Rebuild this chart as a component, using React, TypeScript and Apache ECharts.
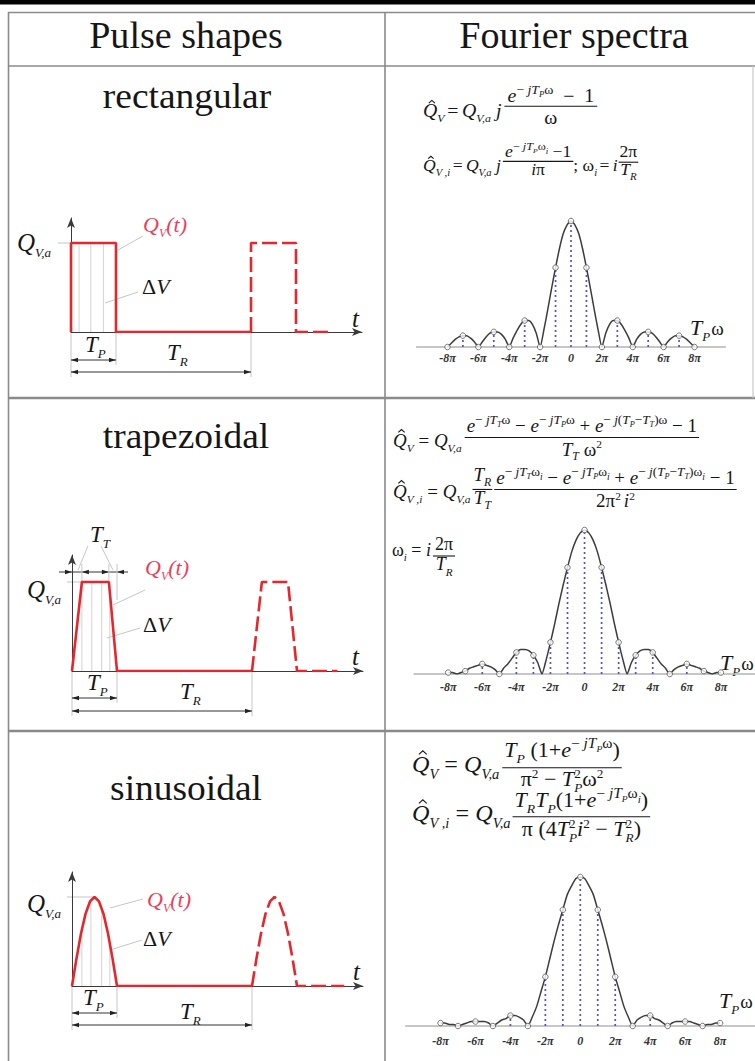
import React, { useEffect, useRef } from 'react';
import * as echarts from 'echarts';

const W = 755;
const H = 1061;
const SERIF = '"Liberation Serif", "Times New Roman", serif';
const INK = '#161616';
const RED = '#e6262c';
const RED_TXT = '#ec3d58';
const LINE_GRAY = '#8a8a8a';
const LEAD = '#c6c6c6';
const BLUE = '#5650d8';

// ---------------- data ----------------
const headers = ['Pulse shapes', 'Fourier spectra'];
const shapeNames = ['rectangular', 'trapezoidal', 'sinusoidal'];

// pulse shapes: t in units of T_P, amplitude in units of Q_V,a
const rectSolid = [[0, 0], [0, 1], [1, 1], [1, 0], [4, 0]];
const rectDashed = [[4, 0], [4, 1], [5, 1], [5, 0], [5.75, 0]];
const rectHatch = [[0.18, 1], [0.44, 1], [0.72, 1]];
const trapSolid = [[0, 0], [0.22, 1], [0.82, 1], [1, 0], [4, 0]];
const trapDashed = [[4, 0], [4.22, 1], [4.8, 1], [5, 0], [5.9, 0]];
const trapHatch = [[0.22, 1], [0.44, 1], [0.66, 1], [0.84, 0.88]];
const sineSolid = [[0, 0], [0.1, 0.31], [0.2, 0.59], [0.3, 0.81], [0.4, 0.95], [0.5, 1], [0.6, 0.95], [0.7, 0.81], [0.8, 0.59], [0.9, 0.31], [1, 0], [4, 0]];
const sineDashed = [[4, 0], [4.1, 0.31], [4.2, 0.59], [4.3, 0.81], [4.4, 0.95], [4.5, 1], [4.6, 0.95], [4.7, 0.81], [4.8, 0.59], [4.9, 0.31], [5, 0], [6.05, 0]];
const sineHatch = [[0.22, 0.64], [0.42, 0.97], [0.66, 0.86], [0.84, 0.48]];

// spectra: |Q| / max, sampled every pi/4 of T_P*omega from -8pi to 8pi
const SPEC_START = -8;
const SPEC_STEP = 0.25;
const rectSpec = [
  0, 0.03, 0.06, 0.08, 0.09, 0.09, 0.07, 0.04,
  0, 0.04, 0.08, 0.11, 0.12, 0.12, 0.10, 0.06,
  0, 0.07, 0.13, 0.18, 0.21, 0.21, 0.18, 0.11,
  0, 0.14, 0.30, 0.47, 0.63, 0.78, 0.90, 0.97,
  1,
  0.97, 0.90, 0.78, 0.63, 0.47, 0.30, 0.14, 0,
  0.11, 0.18, 0.21, 0.21, 0.18, 0.13, 0.07, 0,
  0.06, 0.10, 0.12, 0.12, 0.11, 0.08, 0.04, 0,
  0.04, 0.07, 0.09, 0.09, 0.08, 0.06, 0.03, 0,
];
const trapSpec = [
  0.01, 0.01, 0, 0.01, 0.02, 0.04, 0.05, 0.06,
  0.07, 0.06, 0.05, 0.03, 0, 0.04, 0.07, 0.11,
  0.15, 0.17, 0.17, 0.16, 0.13, 0.08, 0, 0.10,
  0.22, 0.35, 0.49, 0.62, 0.74, 0.85, 0.93, 0.98,
  1,
  0.98, 0.93, 0.85, 0.74, 0.62, 0.49, 0.35, 0.22,
  0.10, 0, 0.08, 0.13, 0.16, 0.17, 0.17, 0.15,
  0.11, 0.07, 0.04, 0, 0.03, 0.05, 0.06, 0.07,
  0.06, 0.05, 0.04, 0.02, 0.01, 0, 0.01, 0.01,
];
const sineSpec = [
  0.02, 0.02, 0.01, 0.01, 0, 0.01, 0.02, 0.03,
  0.03, 0.03, 0.03, 0.02, 0, 0.02, 0.04, 0.05,
  0.07, 0.07, 0.06, 0.04, 0, 0.06, 0.13, 0.23,
  0.33, 0.45, 0.57, 0.68, 0.78, 0.88, 0.94, 0.99,
  1,
  0.99, 0.94, 0.88, 0.78, 0.68, 0.57, 0.45, 0.33,
  0.23, 0.13, 0.06, 0, 0.04, 0.06, 0.07, 0.07,
  0.05, 0.04, 0.02, 0, 0.02, 0.03, 0.03, 0.03,
  0.03, 0.02, 0.01, 0, 0.01, 0.01, 0.02, 0.02,
];
const harmonicsX = [-8, -7, -6, -5, -4, -3, -2, -1, 0, 1, 2, 3, 4, 5, 6, 7, 8];
const rectDashX = [-7, -5, -3, -1, 0, 1, 3, 5, 7];
const trapDashX = [-6, -4, -3, -2, -1, 0, 1, 2, 3, 4, 6];
const sineDashX = [-4, -2, -1, 0, 1, 2, 4, 7];
const specTicks = [-8, -6, -4, -2, 0, 2, 4, 6, 8];

// ---------------- layout ----------------
const UX = 45; // px per T_P
const UY = 89; // px per Q_V,a
const PULSE_W = 291;

const PULSES = [
  {
    left: 71, top: 218, axisY: 332, solid: rectSolid, dashed: rectDashed, hatch: rectHatch,
    qva: [17, 251], qvt: [143, 232], dv: [142, 294], t: [352, 327], tp: [85, 352], tr: [167, 360], arrP: 360, arrR: 372,
    leadQvt: [118, 250, 143, 236], leadDv: [105, 303, 138, 292], leadQva: [58, 243, 71, 243],
  },
  {
    left: 72, top: 555, axisY: 671, solid: trapSolid, dashed: trapDashed, hatch: trapHatch,
    qva: [27, 598], qvt: [145, 575], dv: [143, 632], t: [352, 665], tp: [87, 690], tr: [180, 699], arrP: 698, arrR: 711,
    leadQvt: [113, 605, 145, 590], leadDv: [107, 638, 140, 628], leadQva: [67, 582, 82, 582],
  },
  {
    left: 72, top: 872, axisY: 986, solid: sineSolid, dashed: sineDashed, hatch: sineHatch,
    qva: [27, 912], qvt: [147, 907], dv: [143, 946], t: [353, 980], tp: [83, 1005], tr: [180, 1019], arrP: 1013, arrR: 1025,
    leadQvt: [110, 908, 143, 899], leadDv: [110, 950, 142, 940], leadQva: [67, 897, 93, 897],
  },
];

const SPECS = [
  { vals: rectSpec, dashes: rectDashX, zeroX: 571, pi: 15.44, top: 221, base: 347, margin: 5, title: [690, 335] },
  { vals: trapSpec, dashes: trapDashX, zeroX: 586, pi: 17.19, top: 530, base: 674, margin: 7, title: [720, 670] },
  { vals: sineSpec, dashes: sineDashX, zeroX: 585, pi: 17.94, top: 877, base: 1026, margin: 9, title: [719, 1008] },
];

// ---------------- tiny math typesetter ----------------
type Box = { w: number; a: number; d: number; r: (x: number, b: number, o: any[]) => void };
let _ctx: any = null;
let SX = 1;
function mw(s: string, font: string): number {
  if (!_ctx) _ctx = document.createElement('canvas').getContext('2d');
  _ctx.font = font;
  return _ctx.measureText(s).width;
}
function tx(s: string, z: number, italic: boolean, color = INK): Box {
  const font = `${italic ? 'italic ' : ''}${z}px ${SERIF}`;
  const sx = SX;
  const w = mw(s, font) * sx;
  return {
    w, a: z * 0.7, d: z * 0.2,
    r: (x, b, o) => o.push({
      type: 'text', x, y: b - 0.34 * z, scaleX: sx, silent: true,
      style: { text: s, font, fill: color, textAlign: 'left', textVerticalAlign: 'middle', align: 'left', verticalAlign: 'middle' },
    }),
  };
}
const it = (s: string, z: number, c?: string) => tx(s, z, true, c);
const rm = (s: string, z: number, c?: string) => tx(s, z, false, c);
function row(...bs: Box[]): Box {
  let w = 0, a = 0, d = 0;
  bs.forEach((b) => { w += b.w; a = Math.max(a, b.a); d = Math.max(d, b.d); });
  return { w, a, d, r: (x, b, o) => { let cx = x; bs.forEach((bx) => { bx.r(cx, b, o); cx += bx.w; }); } };
}
const gap = (w: number): Box => ({ w, a: 0, d: 0, r: () => {} });
function shift(bx: Box, dy: number): Box {
  return { w: bx.w, a: bx.a - dy, d: bx.d + dy, r: (x, b, o) => bx.r(x, b + dy, o) };
}
const sb = (base: Box, s: Box, z: number) => row(base, shift(s, 0.28 * z));
const sp = (base: Box, s: Box, z: number) => row(base, shift(s, -0.42 * z));
function sbsp(base: Box, s1: Box, s2: Box, z: number): Box {
  const lo = shift(s1, 0.28 * z), hi = shift(s2, -0.42 * z);
  const w = base.w + Math.max(s1.w, s2.w);
  return {
    w, a: Math.max(base.a, hi.a), d: Math.max(base.d, lo.d),
    r: (x, b, o) => { base.r(x, b, o); lo.r(x + base.w, b, o); hi.r(x + base.w, b, o); },
  };
}
function frac(n: Box, dn: Box, axis: number, gn = 2, gd = 2, pad = 2): Box {
  const w = Math.max(n.w, dn.w) + 2 * pad;
  return {
    w, a: axis + gn + n.a + n.d, d: gd + dn.a + dn.d - axis,
    r: (x, b, o) => {
      const by = b - axis;
      o.push({ type: 'line', silent: true, shape: { x1: x, y1: by, x2: x + w, y2: by }, style: { stroke: INK, lineWidth: 1.1 } });
      n.r(x + (w - n.w) / 2, by - gn - n.d, o);
      dn.r(x + (w - dn.w) / 2, by + gd + dn.a, o);
    },
  };
}
function hatQ(z: number, subText: string): Box {
  const q = it('Q', z);
  const base: Box = {
    w: q.w, a: q.a + 0.25 * z, d: q.d,
    r: (x, b, o) => {
      q.r(x, b, o);
      const cx = x + q.w * 0.62;
      o.push({
        type: 'polyline', silent: true,
        shape: { points: [[cx - 0.17 * z, b - 0.77 * z], [cx, b - 0.92 * z], [cx + 0.17 * z, b - 0.77 * z]] },
        style: { stroke: INK, lineWidth: 1.1, fill: 'none' },
      });
    },
  };
  return sb(base, it(subText, z * 0.6), z);
}
const Tsub = (z: number, s: string, c?: string) => sb(it('T', z, c), it(s, z * 0.62, c), z);
const Qva = (z: number) => sb(it('Q', z), it('V,a', z * 0.6), z);
const eq = (z: number) => row(gap(z * 0.15), rm('=', z), gap(z * 0.2));
function omega(z: number, wi: boolean): Box {
  return wi ? sb(rm('ω', z), it('i', z * 0.72), z) : rm('ω', z);
}
function expo(z: number, X: string, wi: boolean): Box {
  const p = z * 0.7;
  return row(rm('− ', p), it('j', p), Tsub(p, X), omega(p, wi));
}
function expoDiff(z: number, wi: boolean): Box {
  const p = z * 0.7;
  return row(rm('− ', p), it('j', p), rm('(', p), Tsub(p, 'P'), rm('−', p), Tsub(p, 'T'), rm(')', p), omega(p, wi));
}
const eT = (z: number, e: Box) => sp(it('e', z), e, z);
const sq = (base: Box, z: number) => sp(base, rm('2', z * 0.6), z);

function put(o: any[], bx: Box, x: number, b: number) { bx.r(x, b, o); }

// ---------------- graphics helpers ----------------
const L = (x1: number, y1: number, x2: number, y2: number, stroke: string, lineWidth: number) => ({
  type: 'line', silent: true, shape: { x1, y1, x2, y2 }, style: { stroke, lineWidth },
});
function head(x: number, y: number, dir: number) {
  return { type: 'polygon', silent: true, shape: { points: [[x, y], [x - dir * 7, y - 2.3], [x - dir * 7, y + 2.3]] }, style: { fill: '#222' } };
}
function dim(o: any[], x1: number, x2: number, y: number) {
  o.push(L(x1, y, x2, y, '#333', 1), head(x1, y, -1), head(x2, y, 1));
}

function buildOption() {
  const g: any[] = [];
  // table frame
  g.push({ type: 'rect', silent: true, shape: { x: 0, y: 0, width: W, height: 4.5 }, style: { fill: '#050505' } });
  g.push(L(8, 12.5, W, 12.5, LINE_GRAY, 1.5));
  g.push(L(8, 66, W, 66, LINE_GRAY, 1.5));
  g.push(L(8, 398, W, 398, LINE_GRAY, 2.4));
  g.push(L(8, 731, W, 731, LINE_GRAY, 2.4));
  g.push(L(8.5, 12, 8.5, H, LINE_GRAY, 1.6));
  g.push(L(385, 12, 385, H, LINE_GRAY, 1.6));
  g.push(L(753, 66, 753, 398, '#c8c8c8', 1.2));

  // headers and row titles
  const tt = (text: string, x: number, y: number, size: number, sx: number) => ({
    type: 'text', x, y, scaleX: sx, silent: true,
    style: { text, font: `${size}px ${SERIF}`, fill: INK, textAlign: 'center', textVerticalAlign: 'middle', align: 'center', verticalAlign: 'middle' },
  });
  g.push(tt(headers[0], 186, 36, 37, 1.03), tt(headers[1], 574, 36, 37, 1.03));
  g.push(tt(shapeNames[0], 187, 96, 35, 1.07), tt(shapeNames[1], 186, 436, 35, 1.07), tt(shapeNames[2], 186, 788, 35, 1.07));

  // pulse annotations
  PULSES.forEach((p) => {
    const px = (t: number) => p.left + t * UX;
    put(g, row(it('Q', 25), shift(it('V,a', 13), 6)), p.qva[0], p.qva[1]);
    put(g, row(it('Q', 22, RED_TXT), shift(it('V', 12, RED_TXT), 5), it('(t)', 22, RED_TXT)), p.qvt[0], p.qvt[1]);
    put(g, row(rm('Δ', 22), it('V', 22)), p.dv[0], p.dv[1]);
    put(g, it('t', 25), p.t[0], p.t[1]);
    put(g, row(it('T', 23), shift(it('P', 13), 6)), p.tp[0], p.tp[1]);
    put(g, row(it('T', 23), shift(it('R', 13), 6)), p.tr[0], p.tr[1]);
    g.push(L(p.leadQvt[0], p.leadQvt[1], p.leadQvt[2], p.leadQvt[3], LEAD, 1));
    g.push(L(p.leadDv[0], p.leadDv[1], p.leadDv[2], p.leadDv[3], LEAD, 1));
    g.push(L(p.leadQva[0], p.leadQva[1], p.leadQva[2], p.leadQva[3], LEAD, 1));
    g.push(L(px(0), p.axisY, px(0), p.arrR + 5, LEAD, 1));
    g.push(L(px(1), p.axisY, px(1), p.arrP + 5, LEAD, 1));
    g.push(L(px(4), p.axisY, px(4), p.arrR + 5, LEAD, 1));
    dim(g, px(0), px(1), p.arrP);
    dim(g, px(0), px(4), p.arrR);
  });
  // trapezoid rise-time dimension
  {
    const p = PULSES[1];
    const px = (t: number) => p.left + t * UX;
    const y = 572;
    g.push(L(59, y, 128, y, '#333', 1));
    g.push(head(px(0), y, 1), head(px(0.22), y, -1), head(px(0.82), y, 1), head(px(1), y, -1));
    g.push(L(px(0.22), 582, px(0.22), 564, LEAD, 1), L(px(0.82), 582, px(0.82), 564, LEAD, 1), L(px(1), 600, px(1), 564, LEAD, 1));
    put(g, row(it('T', 23), shift(it('T', 13), 6)), 90, 542);
    g.push(L(88, 546, 78, 570, LEAD, 1), L(101, 546, 113, 570, LEAD, 1));
  }

  // spectrum axis titles
  SPECS.forEach((s) => {
    put(g, row(it('T', 22), shift(it('P', 13), 6), gap(1), rm('ω', 19)), s.title[0], s.title[1]);
  });

  // formulas
  SX = 1.1;
  {
    const z = 18;
    put(g, row(hatQ(z, 'V'), eq(z), Qva(z), it(' j', z), gap(3),
      frac(row(eT(z, expo(z, 'P', false)), rm('  −  1', z)), rm('ω', z), 0.6 * z, 1, 5, 3)), 423, 117);
  }
  {
    const z = 16;
    put(g, row(hatQ(z, 'V ,i'), eq(z), Qva(z), it(' j', z), gap(2),
      frac(row(eT(z, expo(z, 'P', true)), rm(' −1', z)), row(it('i', z), rm('π', z)), 0.6 * z, 1, 3, 2),
      rm('; ', z), sb(rm('ω', z), it('i', z * 0.6), z), eq(z), it('i', z), gap(1),
      frac(rm('2π', z), Tsub(z, 'R'), 0.55 * z, 2, 2, 1)), 423, 171);
  }
  SX = 1;
  {
    const z = 19;
    const num = row(eT(z, expo(z, 'T', false)), rm(' − ', z), eT(z, expo(z, 'P', false)), rm(' + ', z), eT(z, expoDiff(z, false)), rm(' − 1', z));
    const den = row(Tsub(z, 'T'), gap(5), sq(rm('ω', z), z));
    put(g, row(hatQ(z, 'V'), rm(' = ', z), Qva(z), gap(3), frac(num, den, 0.5 * z)), 393, 447);
  }
  {
    const z = 19;
    const num = row(eT(z, expo(z, 'T', true)), rm(' − ', z), eT(z, expo(z, 'P', true)), rm(' + ', z), eT(z, expoDiff(z, true)), rm(' − 1', z));
    const den = row(sq(rm('2π', z), z), gap(3), sq(it('i', z), z));
    put(g, row(hatQ(z, 'V ,i'), rm(' = ', z), Qva(z), gap(2), frac(Tsub(z, 'R'), Tsub(z, 'T'), 0.45 * z, 1, 1, 1), gap(2),
      frac(num, den, 0.45 * z)), 393, 498);
  }
  {
    const z = 18;
    put(g, row(sb(rm('ω', z), it('i', z * 0.6), z), rm(' = ', z), it('i', z), gap(2), frac(rm('2π', z), Tsub(z, 'R'), 0)), 392, 556);
  }
  SX = 1.05;
  {
    const z = 21, zq = 23;
    const num = row(Tsub(z, 'P'), rm(' (1+', z), eT(z, expo(z, 'P', false)), rm(')', z));
    const den = row(sq(rm('π', z), z), rm(' − ', z), sbsp(it('T', z), it('P', z * 0.6), rm('2', z * 0.6), z), sq(rm('ω', z), z));
    put(g, row(hatQ(zq, 'V'), rm(' = ', zq), Qva(zq), gap(3), frac(num, den, 0.2 * z, 2, 1)), 412, 772);
  }
  {
    const z = 21, zq = 23;
    const num = row(Tsub(z, 'R'), Tsub(z, 'P'), rm('(1+', z), eT(z, expo(z, 'P', true)), rm(')', z));
    const den = row(rm('π (4', z), sbsp(it('T', z), it('P', z * 0.6), rm('2', z * 0.6), z), sq(it('i', z), z), rm(' − ', z),
      sbsp(it('T', z), it('R', z * 0.6), rm('2', z * 0.6), z), rm(')', z));
    put(g, row(hatQ(zq, 'V ,i'), rm(' = ', zq), Qva(zq), gap(2), frac(num, den, 0.2 * z, 1, 2)), 412, 821);
  }
  SX = 1;

  // ---------------- charts ----------------
  const grid: any[] = [];
  const xAxis: any[] = [];
  const yAxis: any[] = [];
  const series: any[] = [];
  const arrowAxis = { show: true, symbol: ['none', 'arrow'], symbolSize: [6, 10], lineStyle: { color: '#3a3a3a', width: 1 } };
  const vline = (stroke: string, lineWidth: number, dash?: number[]) => (params: any, api: any) => {
    const a = api.coord([api.value(0), 0]);
    const b = api.coord([api.value(0), api.value(1)]);
    return { type: 'line', shape: { x1: a[0], y1: a[1], x2: b[0], y2: b[1] }, style: { stroke, lineWidth, lineDash: dash } };
  };

  PULSES.forEach((p, i) => {
    grid.push({ left: p.left, top: p.top, width: PULSE_W, height: p.axisY - p.top });
    xAxis.push({ type: 'value', gridIndex: i, min: 0, max: PULSE_W / UX, axisLine: arrowAxis, axisTick: { show: false }, axisLabel: { show: false }, splitLine: { show: false } });
    yAxis.push({ type: 'value', gridIndex: i, min: 0, max: (p.axisY - p.top) / UY, axisLine: arrowAxis, axisTick: { show: false }, axisLabel: { show: false }, splitLine: { show: false } });
    series.push({ type: 'custom', xAxisIndex: i, yAxisIndex: i, data: p.hatch, encode: { x: 0, y: 1 }, renderItem: vline('#d2cccc', 0.9), z: 1, silent: true });
    series.push({ type: 'line', xAxisIndex: i, yAxisIndex: i, data: p.solid, symbol: 'none', lineStyle: { color: RED, width: 2.6 }, z: 3, silent: true });
    series.push({ type: 'line', xAxisIndex: i, yAxisIndex: i, data: p.dashed, symbol: 'none', lineStyle: { color: RED, width: 2.6, type: [15, 5] }, z: 3, silent: true });
  });

  SPECS.forEach((s, k) => {
    const i = k + 3;
    grid.push({ left: s.zeroX - 10 * s.pi, width: 20 * s.pi, top: s.top, height: s.base - s.top });
    xAxis.push({
      type: 'value', gridIndex: i, min: -10, max: 10, interval: 2,
      axisLine: { show: true, lineStyle: { color: '#b4b4b4', width: 1.5 } },
      axisTick: { show: false }, splitLine: { show: false },
      axisLabel: {
        show: true, showMinLabel: false, showMaxLabel: false, margin: s.margin,
        fontFamily: SERIF, fontStyle: 'italic', fontWeight: 'bold', fontSize: 12, color: '#333',
        formatter: (v: number) => (specTicks.indexOf(v) < 0 ? '' : v === 0 ? '0' : `${v}π`),
      },
    });
    yAxis.push({ type: 'value', gridIndex: i, min: 0, max: 1, show: false });
    const curve = s.vals.map((v, j) => [SPEC_START + j * SPEC_STEP, v]);
    const at = (x: number) => s.vals[Math.round((x - SPEC_START) / SPEC_STEP)];
    series.push({ type: 'custom', xAxisIndex: i, yAxisIndex: i, data: s.dashes.map((x) => [x, at(x)]), encode: { x: 0, y: 1 }, renderItem: vline(BLUE, 1.7, [2, 3]), z: 2, silent: true });
    series.push({ type: 'line', xAxisIndex: i, yAxisIndex: i, data: curve, symbol: 'none', smooth: 0.2, lineStyle: { color: '#3c3c3c', width: 1.5 }, z: 3, silent: true });
    series.push({ type: 'scatter', xAxisIndex: i, yAxisIndex: i, data: harmonicsX.map((x) => [x, at(x)]), symbol: 'circle', symbolSize: 5.5, itemStyle: { color: '#fff', borderColor: '#555', borderWidth: 1 }, z: 4, silent: true });
  });

  return { animation: false, backgroundColor: '#fff', grid, xAxis, yAxis, series, graphic: { elements: g } };
}

export default function App() {
  const ref = useRef<HTMLDivElement>(null);
  useEffect(() => {
    document.body.style.margin = '0';
    const chart = echarts.init(ref.current as HTMLDivElement, null, { renderer: 'svg', width: W, height: H });
    chart.setOption(buildOption() as any);
    return () => chart.dispose();
  }, []);
  return <div ref={ref} style={{ width: W, height: H, background: '#fff' }} />;
}
